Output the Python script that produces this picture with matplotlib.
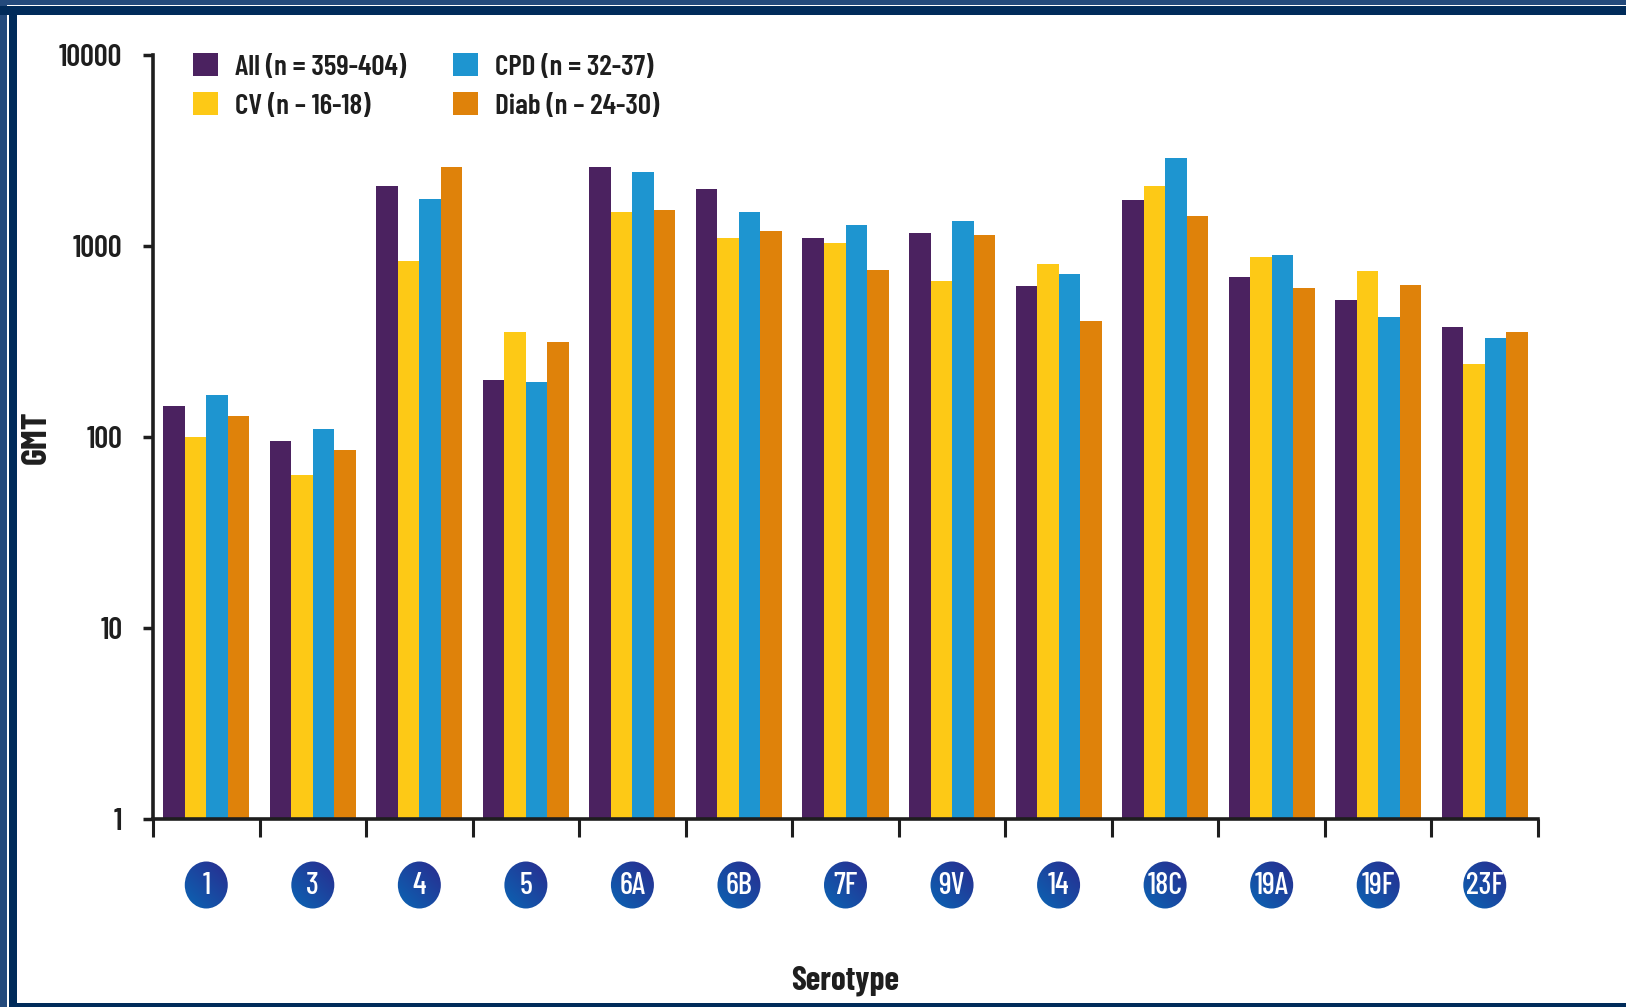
import matplotlib
matplotlib.use('Agg')
import matplotlib.pyplot as plt
import numpy as np
from matplotlib.patches import Rectangle, Ellipse
from matplotlib.colors import to_rgb

# GMT by serotype for each subgroup
serotypes = ['1', '3', '4', '5', '6A', '6B', '7F', '9V', '14', '18C', '19A', '19F', '23F']
gmt_all = [146, 95, 2050, 200, 2580, 1995, 1105, 1170, 615, 1750, 685, 519, 377]
gmt_cv = [100, 63, 830, 356, 1507, 1105, 1037, 653, 808, 2050, 875, 742, 241]
gmt_cpd = [165, 110, 1770, 194, 2440, 1507, 1282, 1352, 716, 2890, 900, 425, 330]
gmt_diab = [129, 86, 2580, 314, 1550, 1192, 751, 1137, 403, 1429, 603, 627, 356]

groups = ['All (n = 359-404)', 'CV (n \u2013 16-18)', 'CPD (n = 32-37)', 'Diab (n \u2013 24-30)']
colors = ['#4b2260', '#fdc916', '#1e95d0', '#df820a']

FONT = ['Barlow Condensed', 'DejaVu Sans']
plt.rcParams['font.family'] = FONT
INK = '#1e1e1e'

W, H = 1626, 1007
fig = plt.figure(figsize=(W / 100, H / 100), dpi=100)

def frac(x, y, w, h):
    # pixel box (top-left origin) -> figure fraction rect
    return (x / W, 1 - (y + h) / H, w / W, h / H)

# plot area
ax = fig.add_axes(frac(153, 55, 1385, 764))
x = np.arange(len(serotypes))
bw = 0.202
for k, (vals, c, lab) in enumerate(zip([gmt_all, gmt_cv, gmt_cpd, gmt_diab], colors, groups)):
    ax.bar(x + (k - 1.5) * bw, vals, bw, color=c, label=lab, zorder=1)

ax.set_yscale('log')
ax.set_ylim(1, 10000)
ax.set_xlim(-0.5, len(serotypes) - 0.5)
ax.set_yticks([1, 10, 100, 1000, 10000])
ax.set_yticklabels(['1', '10', '100', '1000', '10000'])
ax.minorticks_off()
ax.set_xticks(np.arange(-0.5, len(serotypes), 1.0))
ax.set_xticklabels([])
ax.tick_params(axis='x', direction='out', length=13, width=2.2, color=INK)
ax.tick_params(axis='y', direction='out', length=7, width=2.5, color=INK,
               pad=15, labelsize=22, labelcolor=INK)
for lbl in ax.get_yticklabels():
    lbl.set_fontweight(600)
for s in ['top', 'right']:
    ax.spines[s].set_visible(False)
for s in ['left', 'bottom']:
    ax.spines[s].set_linewidth(2.6)
    ax.spines[s].set_color(INK)

ax.set_ylabel('GMT', fontsize=26, fontweight='bold', color=INK)
ax.yaxis.set_label_coords((53 - 153) / 1385, 0.5)
ax.set_xlabel('Serotype', fontsize=24, fontweight='bold', color=INK)
ax.xaxis.set_label_coords(0.5, (819 - 966) / 764)

leg = ax.legend(ncol=2, loc='upper left', bbox_to_anchor=(193 / W, 1 - 53 / H),
                bbox_transform=fig.transFigure, frameon=False, borderpad=0,
                borderaxespad=0, handlelength=0.85, handleheight=0.85,
                handletextpad=0.6, columnspacing=1.6, labelspacing=0.42,
                prop={'family': FONT, 'size': 21, 'weight': 600})
for t in leg.get_texts():
    t.set_color(INK)

# serotype badges under each group
ov = fig.add_axes([0, 0, 1, 1], zorder=5)
ov.set_axis_off()
dark = np.array(to_rgb('#2a2a8e'))
light = np.array(to_rgb('#0a66b4'))
gy, gx = np.mgrid[0:1:48j, 0:1:48j]
t = np.clip((gx + (1 - gy)) / 2.0, 0, 1)[..., None]
grad = light * (1 - t) + dark * t
cy = 885
for i, s in enumerate(serotypes):
    cx = ax.transData.transform((i, 1))[0]
    e = Ellipse((cx, cy), 43, 47, facecolor='none', edgecolor='none')
    ov.add_patch(e)
    im = ov.imshow(grad, extent=(cx - 23, cx + 23, cy + 24, cy - 24),
                   origin='upper', aspect='auto', interpolation='bilinear')
    im.set_clip_path(e)
    ov.text(cx, cy + 1, s, color='white', fontsize=22, ha='center', va='center',
            family=FONT, fontweight=500)
ov.set_xlim(0, W)
ov.set_ylim(H, 0)

# page frame
frame = [
    ((0, 0, W, 5), '#234a7c'),
    ((0, 0, 7, H), '#234a7c'),
    ((0, 6, W, 9), '#002b5a'),
    ((9, 6, 8, H), '#002b5a'),
    ((9, 1003, W, 4), '#002b5a'),
]
for (bx, by, bw_, bh), c in frame:
    fig.add_artist(Rectangle(frac(bx, by, bw_, bh)[:2], bw_ / W, bh / H,
                             transform=fig.transFigure, color=c, lw=0, zorder=10))

fig.savefig('out.png', dpi=100)
